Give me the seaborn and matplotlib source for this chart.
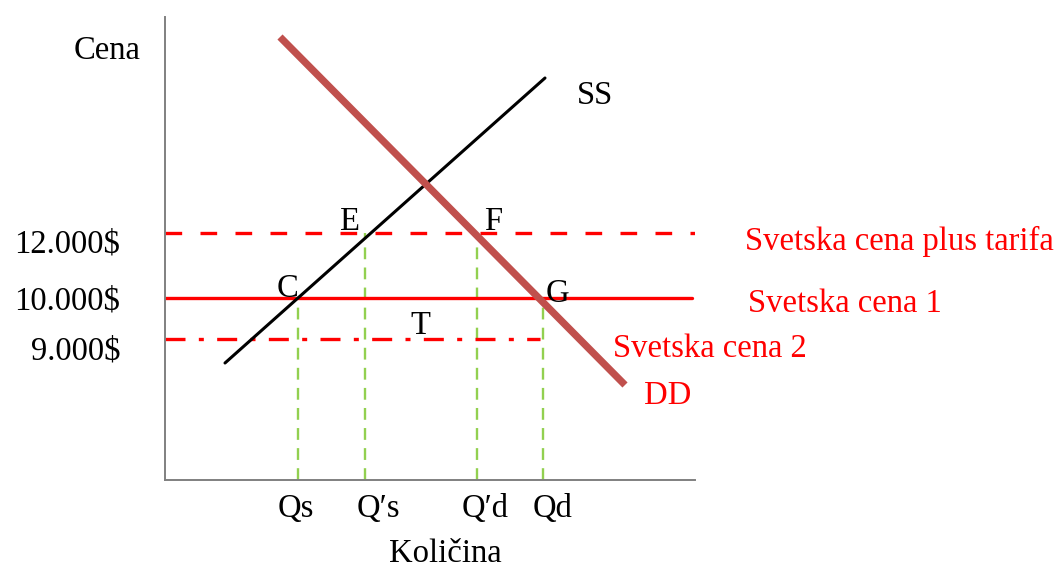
import matplotlib
matplotlib.use("Agg")
import matplotlib.pyplot as plt
import seaborn as sns

# ---- data (diagram units) ----
supply_q = [60, 380]
supply_p = [117, 402]
demand_q = [115, 460]
demand_p = [443, 95]
price_labels = ["12.000$", "10.000$", "9.000$"]
price_levels = [247, 182, 141]
price_line_ends = [530, 527, 375]
price_names = ["Svetska cena plus tarifa", "Svetska cena 1", "Svetska cena 2"]
qty_labels = ["Qs", "Q\u2032s", "Q\u2032d", "Qd"]
qty_values = [133, 200, 312, 378]
qty_price = [182, 247, 247, 182]
point_labels = ["C", "E", "F", "G", "T"]

sns.set_style("white")
plt.rcParams["font.family"] = ["Liberation Serif", "DejaVu Serif"]
plt.rcParams["text.color"] = "black"

W, H = 1059, 569
fig = plt.figure(figsize=(W / 100, H / 100), dpi=100)
ax = fig.add_axes([165 / W, (H - 480) / H, 530 / W, 463 / H])
ax.set_xlim(0, 530)
ax.set_ylim(0, 463)

red = "#ff0000"
green = "#92d050"
ddc = "#c0504d"

# green vertical guides
for q, p in zip(qty_values, qty_price):
    sns.lineplot(x=[q, q], y=[0, p], ax=ax, color=green, lw=1.7,
                 estimator=None, sort=False, linestyle=(0, (5, 3.5)), zorder=1)

# price lines
styles = [(0, (5, 5.5)), "-", (0, (6, 4, 1.5, 4))]
for lvl, end, st in zip(price_levels, price_line_ends, styles):
    sns.lineplot(x=[0, end], y=[lvl, lvl], ax=ax, color=red, lw=2.4,
                 estimator=None, linestyle=st, zorder=2)

# supply & demand
sns.lineplot(x=supply_q, y=supply_p, ax=ax, color="black", lw=2.2,
             estimator=None, zorder=3)
sns.lineplot(x=demand_q, y=demand_p, ax=ax, color=ddc, lw=5.2,
             estimator=None, zorder=4)
ax.lines[-1].set_solid_capstyle("butt")

# axes
for s in ["top", "right"]:
    ax.spines[s].set_visible(False)
for s in ["left", "bottom"]:
    ax.spines[s].set_color("#808080")
    ax.spines[s].set_linewidth(1.4)
ax.set_xticks([])
ax.set_yticks([])

fs = 23.5
dy = -4
# price labels on the y side
for lab, y in zip(price_labels, [240, 183, 133]):
    ax.text(-45, y + dy, lab, fontsize=fs, ha="right", va="center", clip_on=False)

for q, lab, dx in zip(qty_values, qty_labels, [-2, 13, 8, 10]):
    ax.text(q + dx, -25 + dy, lab, fontsize=fs, ha="center", va="center")
ax.text(280, -74, "Količina", fontsize=fs, ha="center", va="center")
ax.text(-58, 433 + dy, "Cena", fontsize=fs, ha="center", va="center")

# point labels
pts = {"C": (123, 195), "E": (185, 262), "F": (328, 262), "G": (392, 190), "T": (255, 158)}
for k in point_labels:
    x, y = pts[k]
    ax.text(x, y + dy, k, fontsize=fs, ha="center", va="center")

ax.text(430, 388 + dy, "SS", fontsize=fs, ha="center", va="center")
ax.text(503, 88 + dy, "DD", fontsize=fs, ha="center", va="center", color=red)
name_pos = [(580, 243), (583, 180), (448, 135)]
for (x, y), nm in zip(name_pos, price_names):
    ax.text(x, y + dy, nm, fontsize=fs, ha="left", va="center", color=red, clip_on=False)

fig.savefig("out.png", dpi=100)
